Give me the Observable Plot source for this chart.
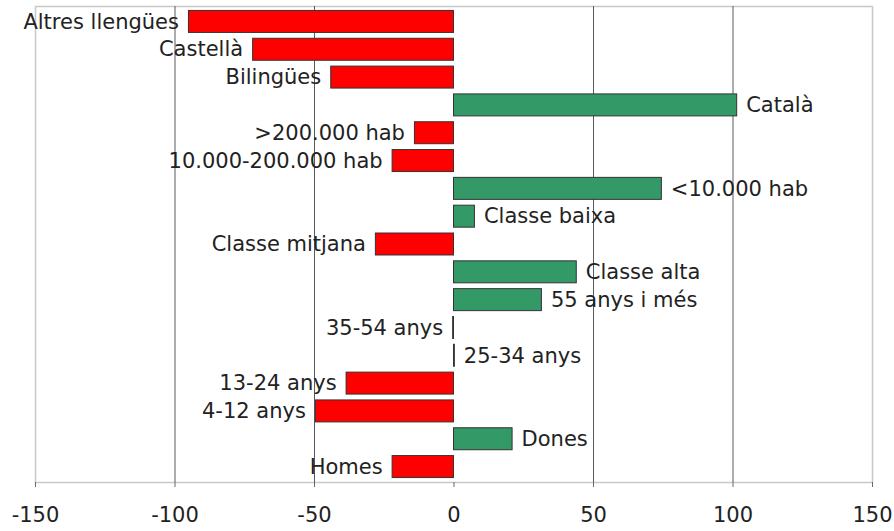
<!DOCTYPE html>
<html>
<head>
<meta charset="utf-8">
<script src="https://cdn.jsdelivr.net/npm/d3@7"></script>
<script src="https://cdn.jsdelivr.net/npm/@observablehq/plot@0.6"></script>
<style>
  html, body { margin: 0; padding: 0; background: #fff; }
  #chart svg { display: block; }
</style>
</head>
<body>
<div id="chart"></div>
<script>
const categories = [
  "Altres llengües", "Castellà", "Bilingües", "Català",
  ">200.000 hab", "10.000-200.000 hab", "<10.000 hab",
  "Classe baixa", "Classe mitjana", "Classe alta",
  "55 anys i més", "35-54 anys", "25-34 anys", "13-24 anys", "4-12 anys",
  "Dones", "Homes"
];
const values = [
  -95, -72, -44, 101.5,
  -14, -22, 74.5,
  7.5, -28, 44,
  31.5, -0.3, 0.3, -38.5, -49.5,
  21, -22
];
const xTicks = [-150, -100, -50, 0, 50, 100, 150];
const gridTicks = [-100, -50, 50, 100];

const data = categories.map((c, i) => ({ cat: c, v: values[i] }));

const chart = Plot.plot({
  width: 894,
  height: 531,
  marginLeft: 35,
  marginRight: 22,
  marginTop: 6,
  marginBottom: 49,
  style: { fontFamily: "DejaVu Sans, Verdana, sans-serif", fontSize: "21px", color: "#222" },
  x: { domain: [-150, 150], axis: null },
  y: { domain: categories, paddingInner: 0.21, paddingOuter: 0.16, round: false, axis: null },
  marks: [
    Plot.frame({ stroke: "#c8c8c8", strokeWidth: 1.5 }),
    Plot.ruleX(gridTicks, { stroke: "#5a5a5a", strokeWidth: 1 }),
    Plot.barX(data, {
      x: "v", y: "cat",
      fill: d => d.v < 0 ? "#ff0000" : "#339966",
      stroke: "#333", strokeWidth: 1
    }),
    Plot.text(data.filter(d => d.v < 0), {
      x: "v", y: "cat", text: "cat", textAnchor: "end", dx: -10,
      fill: "#222", fontSize: 21
    }),
    Plot.text(data.filter(d => d.v >= 0), {
      x: "v", y: "cat", text: "cat", textAnchor: "start", dx: 9,
      fill: "#222", fontSize: 21
    }),
    Plot.ruleY([0], { frameAnchor: "bottom", stroke: "#6a6a6a", strokeWidth: 1.5 }),
    Plot.axisX(xTicks, {
      anchor: "bottom", tickSize: 5, tickPadding: 20, label: null,
      stroke: "#6a6a6a", fill: "#222", fontSize: 21,
      tickFormat: d => String(d)
    })
  ]
});
document.getElementById("chart").append(chart);
</script>
</body>
</html>
